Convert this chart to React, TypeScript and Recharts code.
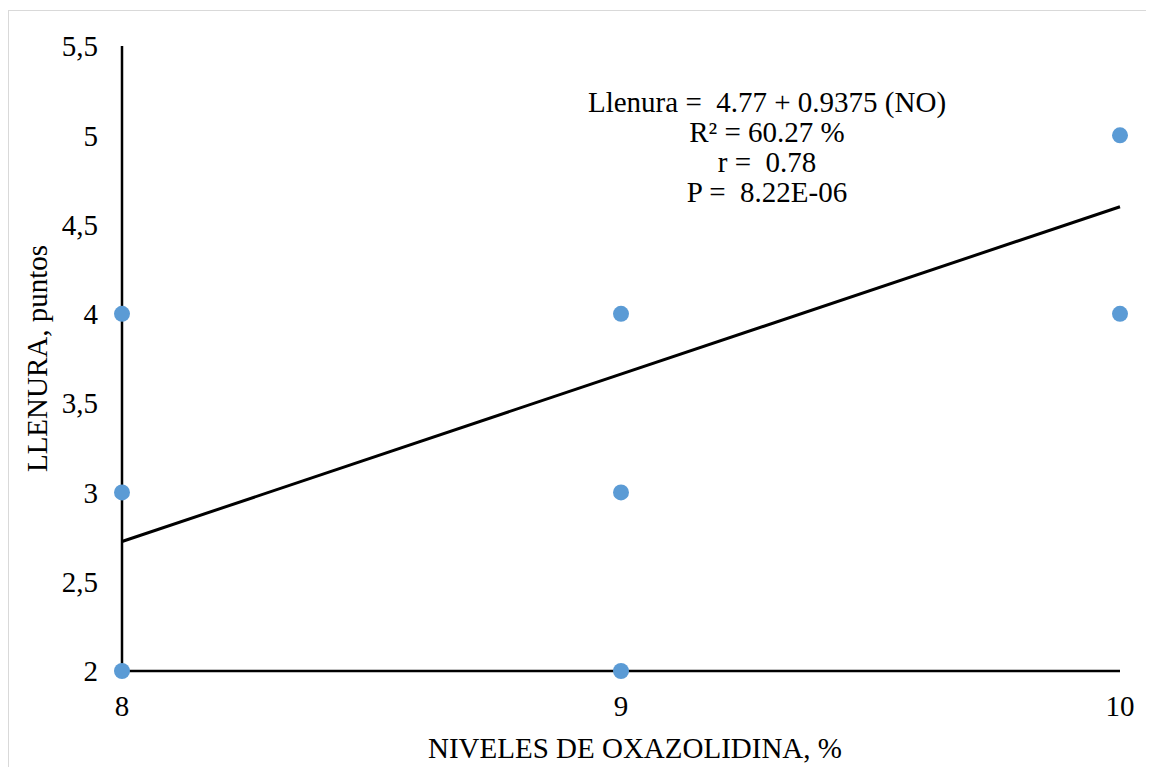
import { ScatterChart, Scatter, XAxis, YAxis, Label } from 'recharts'

// niveles de oxazolidina (%) y llenura (puntos)
const nivelX = [8, 8, 8, 9, 9, 9, 10, 10]
const llenuraY = [4, 3, 2, 4, 3, 2, 5, 4]

const trendX = [8, 10]
const trendY = [2.725, 4.6]

const xTicks = [8, 9, 10]
const yTicks = [2, 2.5, 3, 3.5, 4, 4.5, 5, 5.5]

const statsLines = [
    'Llenura =  4.77 + 0.9375 (NO)',
    'R² = 60.27 %',
    'r =  0.78',
    'P =  8.22E-06',
]

const puntos = nivelX.map((x, i) => ({ x, y: llenuraY[i] }))
const recta = trendX.map((x, i) => ({ x, y: trendY[i] }))

const font = '"Liberation Serif", "Times New Roman", serif'
const fs = 29

const Dot = (props: any) => (
    <circle cx={props.cx} cy={props.cy} r={8} fill='#5b9bd5' />
)

const YTitle = (props: any) => {
    const vb = props.viewBox
    const cy = vb.y + vb.height / 2
    return (
        <text
            x={38}
            y={cy}
            transform={`rotate(-90, 38, ${cy})`}
            textAnchor='middle'
            fontFamily={font}
            fontSize={fs}
            fill='#000'
        >
            LLENURA, puntos
        </text>
    )
}

const XTitle = (props: any) => {
    const vb = props.viewBox
    return (
        <text
            x={vb.x + vb.width / 2 + 14}
            y={747}
            textAnchor='middle'
            fontFamily={font}
            fontSize={fs}
            fill='#000'
        >
            NIVELES DE OXAZOLIDINA, %
        </text>
    )
}

const App = () => {
    return (
        <div style={{ position: 'relative', marginTop: 2, width: 1146, height: 757, border: '1px solid #d9d9d9', background: '#fff' }}>
            <ScatterChart
                width={1146}
                height={757}
                margin={{ top: 35, right: 35, bottom: 0, left: 0 }}
                style={{ fontFamily: font }}
            >
                <XAxis
                    type='number'
                    dataKey='x'
                    domain={[8, 10]}
                    ticks={xTicks}
                    tickLine={false}
                    tickSize={0}
                    tickMargin={24}
                    height={97}
                    axisLine={{ stroke: '#000', strokeWidth: 2.5 }}
                    tick={{ fill: '#000', fontSize: fs, fontFamily: font }}
                >
                    <Label content={<XTitle />} />
                </XAxis>
                <YAxis
                    type='number'
                    dataKey='y'
                    domain={[2, 5.5]}
                    ticks={yTicks}
                    width={113}
                    tickLine={false}
                    tickSize={0}
                    tickMargin={24}
                    axisLine={{ stroke: '#000', strokeWidth: 2.5 }}
                    tick={{ fill: '#000', fontSize: fs, fontFamily: font }}
                    tickFormatter={(v) => `${v}`.replace('.', ',')}
                >
                    <Label content={<YTitle />} />
                </YAxis>
                <Scatter
                    data={recta}
                    line={{ stroke: '#000', strokeWidth: 3 }}
                    shape={() => <g />}
                    isAnimationActive={false}
                />
                <Scatter data={puntos} shape={<Dot />} isAnimationActive={false} />
            </ScatterChart>
            <div style={{
                position: 'absolute', left: 508, top: 76, width: 500, textAlign: 'center',
                fontFamily: font, fontSize: fs, lineHeight: '30px', color: '#000',
            }}>
                {statsLines.map((t) => <div key={t} style={{ whiteSpace: 'pre' }}>{t}</div>)}
            </div>
        </div>
    )
}

export default App
